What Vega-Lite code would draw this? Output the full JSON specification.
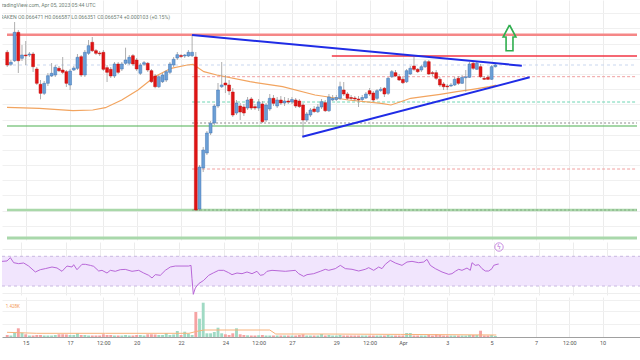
{
"$schema": "https://vega.github.io/schema/vega-lite/v6.json",
"padding": 0,
"spacing": 0,
"background": "white",
"config": {"view": {"stroke": null}, "font": "Roboto"},
"resolve": {"scale": {"x": "independent", "y": "independent"}},
"datasets": {
"candles": [
{"t":14.167,"open":0.066697,"high":0.06672,"low":0.06655,"close":0.06657,"volume":1000},
{"t":14.333,"open":0.066577,"high":0.06662,"low":0.06656,"close":0.066597,"volume":750},
{"t":14.5,"open":0.066613,"high":0.067,"low":0.0666,"close":0.066897,"volume":2000},
{"t":14.667,"open":0.066897,"high":0.06692,"low":0.06649,"close":0.066613,"volume":4350},
{"t":14.833,"open":0.066637,"high":0.06677,"low":0.06661,"close":0.06667,"volume":2150},
{"t":15,"open":0.06667,"high":0.06681,"low":0.06657,"close":0.066662,"volume":1350},
{"t":15.167,"open":0.06667,"high":0.0667,"low":0.06665,"close":0.06668,"volume":750},
{"t":15.333,"open":0.06668,"high":0.0667,"low":0.0665,"close":0.066553,"volume":750},
{"t":15.5,"open":0.06653,"high":0.06655,"low":0.06637,"close":0.066387,"volume":1000},
{"t":15.667,"open":0.066377,"high":0.06642,"low":0.066227,"close":0.066287,"volume":1000},
{"t":15.833,"open":0.066287,"high":0.06641,"low":0.06627,"close":0.066387,"volume":750},
{"t":16,"open":0.066387,"high":0.06649,"low":0.06636,"close":0.066463,"volume":750},
{"t":16.167,"open":0.06646,"high":0.06659,"low":0.06645,"close":0.066487,"volume":750},
{"t":16.333,"open":0.06647,"high":0.06657,"low":0.06645,"close":0.066547,"volume":1000},
{"t":16.5,"open":0.066537,"high":0.06656,"low":0.0665,"close":0.066513,"volume":1350},
{"t":16.667,"open":0.06652,"high":0.06665,"low":0.06648,"close":0.066497,"volume":1350},
{"t":16.833,"open":0.066503,"high":0.06652,"low":0.06635,"close":0.066387,"volume":1250},
{"t":17,"open":0.06637,"high":0.06653,"low":0.06632,"close":0.06651,"volume":1000},
{"t":17.167,"open":0.06652,"high":0.06656,"low":0.06651,"close":0.06654,"volume":1000},
{"t":17.333,"open":0.066537,"high":0.06668,"low":0.06652,"close":0.066647,"volume":1850},
{"t":17.5,"open":0.066653,"high":0.06667,"low":0.06645,"close":0.06647,"volume":1000},
{"t":17.667,"open":0.06647,"high":0.06672,"low":0.06645,"close":0.066697,"volume":1000},
{"t":17.833,"open":0.066687,"high":0.06682,"low":0.06667,"close":0.066763,"volume":750},
{"t":18,"open":0.066797,"high":0.06685,"low":0.0667,"close":0.066713,"volume":750},
{"t":18.167,"open":0.066713,"high":0.06673,"low":0.06667,"close":0.066687,"volume":750},
{"t":18.333,"open":0.06669,"high":0.06671,"low":0.06666,"close":0.066682,"volume":750},
{"t":18.5,"open":0.066697,"high":0.06672,"low":0.06651,"close":0.066527,"volume":1350},
{"t":18.667,"open":0.066543,"high":0.06657,"low":0.0664,"close":0.066497,"volume":1000},
{"t":18.833,"open":0.066527,"high":0.06655,"low":0.06644,"close":0.06646,"volume":1000},
{"t":19,"open":0.06646,"high":0.0666,"low":0.06644,"close":0.06658,"volume":750},
{"t":19.167,"open":0.06658,"high":0.0666,"low":0.06648,"close":0.066497,"volume":750},
{"t":19.333,"open":0.06653,"high":0.0666,"low":0.06651,"close":0.06658,"volume":750},
{"t":19.5,"open":0.066587,"high":0.066743,"low":0.06657,"close":0.06662,"volume":1000},
{"t":19.667,"open":0.066587,"high":0.06667,"low":0.06657,"close":0.066647,"volume":750},
{"t":19.833,"open":0.066663,"high":0.06668,"low":0.06656,"close":0.06658,"volume":750},
{"t":20,"open":0.06662,"high":0.06664,"low":0.06651,"close":0.06653,"volume":1000},
{"t":20.167,"open":0.066487,"high":0.06659,"low":0.06647,"close":0.06657,"volume":1000},
{"t":20.333,"open":0.066577,"high":0.06661,"low":0.06656,"close":0.066593,"volume":750},
{"t":20.5,"open":0.066587,"high":0.0666,"low":0.0665,"close":0.06652,"volume":1350},
{"t":20.667,"open":0.066513,"high":0.06653,"low":0.06639,"close":0.066403,"volume":1350},
{"t":20.833,"open":0.06646,"high":0.06648,"low":0.066337,"close":0.066353,"volume":1250},
{"t":21,"open":0.066353,"high":0.06647,"low":0.06634,"close":0.066453,"volume":1000},
{"t":21.167,"open":0.066403,"high":0.06649,"low":0.06639,"close":0.06647,"volume":1000},
{"t":21.333,"open":0.06642,"high":0.06652,"low":0.0664,"close":0.066503,"volume":2000},
{"t":21.5,"open":0.066497,"high":0.0666,"low":0.06648,"close":0.06658,"volume":1000},
{"t":21.667,"open":0.06657,"high":0.06665,"low":0.06655,"close":0.066627,"volume":1250},
{"t":21.833,"open":0.06664,"high":0.0667,"low":0.06662,"close":0.066673,"volume":3000},
{"t":22,"open":0.066665,"high":0.06668,"low":0.06664,"close":0.066655,"volume":1000},
{"t":22.167,"open":0.06666,"high":0.06668,"low":0.06664,"close":0.06667,"volume":2650},
{"t":22.333,"open":0.06666,"high":0.06672,"low":0.06665,"close":0.066697,"volume":1650},
{"t":22.5,"open":0.066663,"high":0.06687,"low":0.06665,"close":0.066697,"volume":1000},
{"t":22.667,"open":0.06665,"high":0.0667,"low":0.06511,"close":0.06512,"volume":12500},
{"t":22.833,"open":0.06513,"high":0.06557,"low":0.06511,"close":0.06555,"volume":9150},
{"t":23,"open":0.06554,"high":0.06575,"low":0.0655,"close":0.06572,"volume":17150},
{"t":23.167,"open":0.06569,"high":0.06591,"low":0.06567,"close":0.06589,"volume":1850},
{"t":23.333,"open":0.06589,"high":0.06601,"low":0.06587,"close":0.065987,"volume":1850},
{"t":23.5,"open":0.06599,"high":0.06618,"low":0.06597,"close":0.06616,"volume":2500},
{"t":23.667,"open":0.06616,"high":0.06639,"low":0.06614,"close":0.06632,"volume":4650},
{"t":23.833,"open":0.066353,"high":0.0666,"low":0.06634,"close":0.06637,"volume":1850},
{"t":24,"open":0.06639,"high":0.06647,"low":0.06629,"close":0.06637,"volume":1350},
{"t":24.167,"open":0.06637,"high":0.06642,"low":0.06627,"close":0.06631,"volume":1000},
{"t":24.333,"open":0.0663,"high":0.06634,"low":0.06605,"close":0.06607,"volume":1850},
{"t":24.5,"open":0.06609,"high":0.06622,"low":0.06607,"close":0.06619,"volume":4350},
{"t":24.667,"open":0.06616,"high":0.06619,"low":0.06602,"close":0.0661,"volume":1350},
{"t":24.833,"open":0.06615,"high":0.06618,"low":0.06606,"close":0.06609,"volume":1000},
{"t":25,"open":0.06614,"high":0.06625,"low":0.06612,"close":0.06622,"volume":850},
{"t":25.167,"open":0.06623,"high":0.06625,"low":0.06612,"close":0.06614,"volume":750},
{"t":25.333,"open":0.066153,"high":0.06618,"low":0.06612,"close":0.06614,"volume":750},
{"t":25.5,"open":0.06614,"high":0.06623,"low":0.06611,"close":0.0662,"volume":850},
{"t":25.667,"open":0.06618,"high":0.06621,"low":0.06599,"close":0.066003,"volume":1000},
{"t":25.833,"open":0.06602,"high":0.06619,"low":0.066,"close":0.06617,"volume":750},
{"t":26,"open":0.06613,"high":0.06628,"low":0.06611,"close":0.066237,"volume":750},
{"t":26.167,"open":0.066237,"high":0.06627,"low":0.06616,"close":0.066187,"volume":750},
{"t":26.333,"open":0.06616,"high":0.06625,"low":0.06614,"close":0.06622,"volume":750},
{"t":26.5,"open":0.06622,"high":0.06626,"low":0.06617,"close":0.06619,"volume":750},
{"t":26.667,"open":0.06619,"high":0.06625,"low":0.06616,"close":0.06621,"volume":750},
{"t":26.833,"open":0.06621,"high":0.06624,"low":0.06618,"close":0.0662,"volume":750},
{"t":27,"open":0.0662,"high":0.06625,"low":0.06618,"close":0.066225,"volume":750},
{"t":27.167,"open":0.06622,"high":0.06624,"low":0.06614,"close":0.06616,"volume":750},
{"t":27.333,"open":0.06621,"high":0.06623,"low":0.06614,"close":0.066155,"volume":1000},
{"t":27.5,"open":0.06617,"high":0.06619,"low":0.065853,"close":0.06602,"volume":1350},
{"t":27.667,"open":0.06602,"high":0.0661,"low":0.066,"close":0.06608,"volume":750},
{"t":27.833,"open":0.06607,"high":0.06614,"low":0.06605,"close":0.06612,"volume":750},
{"t":28,"open":0.06613,"high":0.06616,"low":0.06609,"close":0.066105,"volume":750},
{"t":28.167,"open":0.066103,"high":0.06618,"low":0.06609,"close":0.06615,"volume":750},
{"t":28.333,"open":0.06615,"high":0.06623,"low":0.06613,"close":0.066203,"volume":1500},
{"t":28.5,"open":0.066193,"high":0.06622,"low":0.0661,"close":0.066113,"volume":750},
{"t":28.667,"open":0.066113,"high":0.06628,"low":0.0661,"close":0.06625,"volume":1000},
{"t":28.833,"open":0.06622,"high":0.06627,"low":0.06621,"close":0.066235,"volume":750},
{"t":29,"open":0.066225,"high":0.06627,"low":0.06621,"close":0.066245,"volume":750},
{"t":29.167,"open":0.066237,"high":0.066403,"low":0.06622,"close":0.066353,"volume":1000},
{"t":29.333,"open":0.06632,"high":0.0664,"low":0.06626,"close":0.06628,"volume":750},
{"t":29.5,"open":0.06628,"high":0.0663,"low":0.06622,"close":0.066237,"volume":750},
{"t":29.667,"open":0.066245,"high":0.06627,"low":0.06622,"close":0.066235,"volume":750},
{"t":29.833,"open":0.06624,"high":0.06626,"low":0.06621,"close":0.06623,"volume":750},
{"t":30,"open":0.06623,"high":0.06626,"low":0.06615,"close":0.066222,"volume":750},
{"t":30.167,"open":0.066225,"high":0.06627,"low":0.06621,"close":0.066245,"volume":750},
{"t":30.333,"open":0.06624,"high":0.0663,"low":0.06623,"close":0.06628,"volume":750},
{"t":30.5,"open":0.066313,"high":0.06634,"low":0.06626,"close":0.06628,"volume":750},
{"t":30.667,"open":0.06629,"high":0.06631,"low":0.0662,"close":0.06622,"volume":750},
{"t":30.833,"open":0.066237,"high":0.06633,"low":0.06622,"close":0.066313,"volume":750},
{"t":31,"open":0.066315,"high":0.06635,"low":0.0663,"close":0.066327,"volume":750},
{"t":31.167,"open":0.066337,"high":0.06635,"low":0.06625,"close":0.06628,"volume":750},
{"t":31.333,"open":0.066287,"high":0.06645,"low":0.06627,"close":0.066437,"volume":1000},
{"t":31.5,"open":0.066453,"high":0.06652,"low":0.06644,"close":0.066503,"volume":750},
{"t":31.667,"open":0.066493,"high":0.06652,"low":0.06645,"close":0.06646,"volume":750},
{"t":31.833,"open":0.066453,"high":0.06648,"low":0.06641,"close":0.06642,"volume":750},
{"t":32,"open":0.066427,"high":0.06645,"low":0.06638,"close":0.066393,"volume":750},
{"t":32.167,"open":0.066403,"high":0.06653,"low":0.06639,"close":0.066513,"volume":2000},
{"t":32.333,"open":0.06648,"high":0.06656,"low":0.06647,"close":0.066537,"volume":2000},
{"t":32.5,"open":0.06656,"high":0.066653,"low":0.06651,"close":0.066527,"volume":750},
{"t":32.667,"open":0.066527,"high":0.06654,"low":0.06649,"close":0.066503,"volume":750},
{"t":32.833,"open":0.06652,"high":0.06657,"low":0.0665,"close":0.066553,"volume":750},
{"t":33,"open":0.066553,"high":0.06662,"low":0.06654,"close":0.066603,"volume":750},
{"t":33.167,"open":0.066603,"high":0.06662,"low":0.06647,"close":0.06648,"volume":1000},
{"t":33.333,"open":0.066493,"high":0.06651,"low":0.06646,"close":0.066485,"volume":750},
{"t":33.5,"open":0.066493,"high":0.06652,"low":0.06642,"close":0.066437,"volume":1350},
{"t":33.667,"open":0.066427,"high":0.06645,"low":0.06635,"close":0.06637,"volume":1000},
{"t":33.833,"open":0.06638,"high":0.0664,"low":0.06632,"close":0.066353,"volume":750},
{"t":34,"open":0.06636,"high":0.06638,"low":0.06632,"close":0.066352,"volume":750},
{"t":34.167,"open":0.06636,"high":0.06639,"low":0.06635,"close":0.06637,"volume":750},
{"t":34.333,"open":0.06637,"high":0.06645,"low":0.06636,"close":0.066427,"volume":750},
{"t":34.5,"open":0.066437,"high":0.06646,"low":0.06637,"close":0.066387,"volume":750},
{"t":34.667,"open":0.066387,"high":0.06647,"low":0.06638,"close":0.066447,"volume":750},
{"t":34.833,"open":0.066443,"high":0.06652,"low":0.066303,"close":0.066452,"volume":750},
{"t":35,"open":0.066447,"high":0.0666,"low":0.06644,"close":0.06658,"volume":1000},
{"t":35.167,"open":0.066587,"high":0.0666,"low":0.06652,"close":0.066537,"volume":1000},
{"t":35.333,"open":0.066527,"high":0.06661,"low":0.06652,"close":0.066587,"volume":1000},
{"t":35.5,"open":0.066553,"high":0.06658,"low":0.06644,"close":0.066453,"volume":3150},
{"t":35.667,"open":0.066437,"high":0.06646,"low":0.06642,"close":0.066427,"volume":750},
{"t":35.833,"open":0.066447,"high":0.06647,"low":0.06642,"close":0.066427,"volume":750},
{"t":36,"open":0.066427,"high":0.06657,"low":0.06642,"close":0.066553,"volume":1000},
{"t":36.167,"open":0.066553,"high":0.06658,"low":0.066545,"close":0.06657,"volume":500}
],
"ma": [
{"t":14.157,"p":0.066147},{"t":15.62,"p":0.066137},{"t":17.13,"p":0.066113},{"t":18.02,"p":0.06612},
{"t":18.59,"p":0.066143},{"t":19.33,"p":0.06622},{"t":20.06,"p":0.06632},{"t":20.81,"p":0.066453},
{"t":21.55,"p":0.066537},{"t":22.28,"p":0.06657},{"t":22.54,"p":0.066577},{"t":23.03,"p":0.066503},
{"t":23.61,"p":0.06647},{"t":25.11,"p":0.066403},{"t":26.58,"p":0.066353},{"t":28.04,"p":0.06627},
{"t":29.55,"p":0.06622},{"t":31.02,"p":0.066187},{"t":31.46,"p":0.06617},{"t":31.9,"p":0.066203},
{"t":32.35,"p":0.066237},{"t":32.92,"p":0.066253},{"t":33.68,"p":0.066277},{"t":34.43,"p":0.066303},
{"t":35.14,"p":0.066327},{"t":35.9,"p":0.066353},{"t":36.21,"p":0.06637}
],
"hl": [
{"t":14.157,"t2":42.551,"p":0.066873,"kind":"resistance"},
{"t":28.797,"t2":42.551,"p":0.06666,"kind":"red"},
{"t":14.157,"t2":42.551,"p":0.06657,"kind":"blueDash"},
{"t":22.498,"t2":42.551,"p":0.066453,"kind":"pinkDash"},
{"t":22.498,"t2":42.551,"p":0.0662,"kind":"tealDash"},
{"t":22.498,"t2":42.551,"p":0.06599,"kind":"grayDash"},
{"t":14.157,"t2":42.551,"p":0.06596,"kind":"support"},
{"t":22.498,"t2":42.551,"p":0.06553,"kind":"pinkDash"},
{"t":14.157,"t2":42.551,"p":0.06512,"kind":"lowSupport"},
{"t":22.498,"t2":42.551,"p":0.06512,"kind":"greenDash"},
{"t":14.157,"t2":42.551,"p":0.06484,"kind":"bottomLine"}
],
"tri": [
{"line":"upper","t":22.498,"p":0.06687},{"line":"upper","t":37.36,"p":0.066563},
{"line":"lower","t":27.467,"p":0.065853},{"line":"lower","t":37.715,"p":0.066447}
],
"arrow": [
{"i":1,"t":36.806,"p":0.06697},{"i":2,"t":37.094,"p":0.06685},{"i":3,"t":36.961,"p":0.06685},
{"i":4,"t":36.961,"p":0.066713},{"i":5,"t":36.65,"p":0.066713},{"i":6,"t":36.65,"p":0.06685},
{"i":7,"t":36.517,"p":0.06685},{"i":8,"t":36.806,"p":0.06697}
],
"notes": [
{"t":18.15,"p":0.06717,"label":"TradingView.com, Apr 05, 2023 05:44 UTC"},
{"t":21.508,"p":0.067047,"label":"KRAKEN  O0.066471  H0.066587  L0.066351  C0.066574  +0.000103 (+0.15%)"}
],
"rsi": [
{"t":14.157,"v":63.2},{"t":14.379,"v":63.7},{"t":14.527,"v":68.2},{"t":14.675,"v":61.4},{"t":14.897,"v":60.1},
{"t":15.118,"v":61.0},{"t":15.34,"v":56.9},{"t":15.636,"v":48.9},{"t":15.857,"v":52.0},{"t":16.079,"v":53.4},
{"t":16.375,"v":55.6},{"t":16.597,"v":54.3},{"t":16.819,"v":49.8},{"t":17.041,"v":56.9},{"t":17.263,"v":55.6},
{"t":17.337,"v":58.7},{"t":17.484,"v":52.0},{"t":17.706,"v":59.2},{"t":17.854,"v":59.2},{"t":18.076,"v":57.8},
{"t":18.225,"v":56.5},{"t":18.447,"v":50.2},{"t":18.594,"v":51.1},{"t":18.815,"v":47.5},{"t":18.962,"v":51.1},
{"t":19.184,"v":49.8},{"t":19.405,"v":52.0},{"t":19.627,"v":52.4},{"t":19.925,"v":49.8},{"t":20.222,"v":51.1},
{"t":20.444,"v":47.5},{"t":20.665,"v":44.4},{"t":20.812,"v":40.8},{"t":20.958,"v":45.3},{"t":21.18,"v":44.4},
{"t":21.402,"v":51.1},{"t":21.624,"v":55.6},{"t":21.846,"v":56.9},{"t":22.44,"v":56.9},{"t":22.542,"v":57.8},
{"t":22.586,"v":39.9},{"t":22.644,"v":18.8},{"t":22.733,"v":27.3},{"t":22.884,"v":33.2},{"t":23.105,"v":37.6},
{"t":23.327,"v":44.4},{"t":23.549,"v":47.9},{"t":23.771,"v":51.1},{"t":23.993,"v":51.1},{"t":24.215,"v":47.9},
{"t":24.361,"v":45.3},{"t":24.583,"v":47.5},{"t":24.805,"v":46.6},{"t":25.027,"v":48.9},{"t":25.248,"v":46.6},
{"t":25.47,"v":49.8},{"t":25.617,"v":44.4},{"t":25.767,"v":45.3},{"t":25.914,"v":49.8},{"t":26.136,"v":51.1},
{"t":26.726,"v":49.8},{"t":27.17,"v":51.1},{"t":27.32,"v":46.6},{"t":27.542,"v":43.0},{"t":27.689,"v":45.3},
{"t":27.985,"v":46.6},{"t":28.279,"v":49.8},{"t":28.5,"v":52.5},{"t":28.651,"v":51.1},{"t":28.945,"v":53.4},
{"t":29.167,"v":57.8},{"t":29.389,"v":53.4},{"t":29.685,"v":52.5},{"t":29.982,"v":50.2},{"t":30.275,"v":52.5},
{"t":30.426,"v":54.7},{"t":30.648,"v":51.1},{"t":30.869,"v":55.6},{"t":31.016,"v":53.4},{"t":31.162,"v":59.2},
{"t":31.384,"v":64.6},{"t":31.606,"v":61.0},{"t":31.903,"v":57.8},{"t":32.125,"v":62.3},{"t":32.347,"v":63.2},
{"t":32.644,"v":61.4},{"t":32.866,"v":62.3},{"t":33.012,"v":65.9},{"t":33.159,"v":57.8},{"t":33.381,"v":53.4},
{"t":33.678,"v":48.9},{"t":33.975,"v":45.7},{"t":34.121,"v":46.6},{"t":34.268,"v":49.8},{"t":34.419,"v":52.5},
{"t":34.565,"v":51.1},{"t":34.787,"v":54.2},{"t":34.934,"v":51.1},{"t":35.009,"v":61.4},{"t":35.155,"v":57.8},
{"t":35.306,"v":58.7},{"t":35.452,"v":53.4},{"t":35.599,"v":50.2},{"t":35.75,"v":50.2},{"t":35.896,"v":53.4},
{"t":35.971,"v":57.8},{"t":36.118,"v":59.2},{"t":36.193,"v":59.6}
],
"rsiband": [{"t":14.157,"t2":42.551,"lo":30,"hi":70}],
"rsilev": [{"t":14.157,"t2":42.551,"v":70},{"t":14.157,"t2":42.551,"v":30}],
"rsiicon": [{"t":36.207,"v":82.5,"label":"ϟ"}],
"vma": [
{"t":14.157,"volume":2350},{"t":15.49,"volume":1850},{"t":18.59,"volume":1850},{"t":22.36,"volume":1850},
{"t":22.68,"volume":2750},{"t":23.03,"volume":3500},{"t":26.0,"volume":3500},{"t":26.27,"volume":1500},
{"t":28.35,"volume":1500},{"t":31.9,"volume":1300},{"t":36.21,"volume":1000}
],
"vlabel": [{"t":14.734,"volume":15150,"label":"1.428K"}]
},
"vconcat": [
{
"width": 640, "height": 240,
"encoding": {
 "x": {"field":"t","type":"quantitative","scale":{"domain":[14.157,42.551],"nice":false,"zero":false},
  "axis":{"values":[15,17,18.5,20,22,24,25.5,27,29,30.5,32,34,36,38,39.5,41],"grid":true,"gridColor":"#ececec","labels":false,"ticks":false,"domain":false,"title":null,"minExtent":0,"maxExtent":0}},
 "y": {"field":"p","type":"quantitative","scale":{"domain":[0.06482,0.06722],"nice":false,"zero":false},
  "axis":{"values":[0.067089,0.066937,0.066785,0.066633,0.066481,0.066329,0.066177,0.066025,0.065873,0.065721,0.065569,0.065417,0.065265,0.065113,0.064961],"grid":true,"gridColor":"#f0f0f0","labels":false,"ticks":false,"domain":false,"title":null,"minExtent":0,"maxExtent":0}}
},
"layer": [
 {"data":{"name":"hl"},"transform":[{"filter":"datum.kind == 'blueDash'"}],"mark":{"type":"rule","color":"#c9d7ef","strokeWidth":1,"strokeDash":[3,3]},"encoding":{"x2":{"field":"t2"}}},
 {"data":{"name":"hl"},"transform":[{"filter":"datum.kind == 'pinkDash'"}],"mark":{"type":"rule","color":"#f0a0a0","strokeWidth":1,"strokeDash":[3,2]},"encoding":{"x2":{"field":"t2"}}},
 {"data":{"name":"hl"},"transform":[{"filter":"datum.kind == 'tealDash'"}],"mark":{"type":"rule","color":"#6fd6b4","strokeWidth":1,"strokeDash":[3,2]},"encoding":{"x2":{"field":"t2"}}},
 {"data":{"name":"hl"},"transform":[{"filter":"datum.kind == 'grayDash'"}],"mark":{"type":"rule","color":"#8c8c8c","strokeWidth":1,"strokeDash":[2,2]},"encoding":{"x2":{"field":"t2"}}},
 {"data":{"name":"hl"},"transform":[{"filter":"datum.kind == 'support'"}],"mark":{"type":"rule","color":"#4caf50","strokeWidth":1.2},"encoding":{"x2":{"field":"t2"}}},
 {"data":{"name":"hl"},"transform":[{"filter":"datum.kind == 'lowSupport'"}],"mark":{"type":"rule","color":"#a9d8a9","strokeWidth":2.5},"encoding":{"x2":{"field":"t2"}}},
 {"data":{"name":"hl"},"transform":[{"filter":"datum.kind == 'greenDash'"}],"mark":{"type":"rule","color":"#8fb88f","strokeWidth":1.5,"strokeDash":[2,2]},"encoding":{"x2":{"field":"t2"}}},
 {"data":{"name":"hl"},"transform":[{"filter":"datum.kind == 'bottomLine'"}],"mark":{"type":"rule","color":"#a9d8ab","strokeWidth":3},"encoding":{"x2":{"field":"t2"}}},
 {"data":{"name":"hl"},"transform":[{"filter":"datum.kind == 'resistance'"}],"mark":{"type":"rule","color":"#f58787","strokeWidth":2.5},"encoding":{"x2":{"field":"t2"}}},
 {"data":{"name":"hl"},"transform":[{"filter":"datum.kind == 'red'"}],"mark":{"type":"rule","color":"#f23645","strokeWidth":1.3},"encoding":{"x2":{"field":"t2"}}},
 {"data":{"name":"ma"},"mark":{"type":"line","color":"#f2a45f","strokeWidth":1.2,"clip":true},"encoding":{}},
 {"data":{"name":"candles"},"mark":{"type":"rule","color":"#9a9a9a","strokeWidth":0.8},
  "encoding":{"y":{"field":"low","type":"quantitative","title":null},"y2":{"field":"high"}}},
 {"data":{"name":"candles"},"mark":{"type":"bar","size":2.9,"strokeWidth":0.5},
  "encoding":{"y":{"field":"open","type":"quantitative","title":null},"y2":{"field":"close"},
   "color":{"condition":{"test":"datum.close < datum.open","value":"#e01414"},"value":"#6b9fd6"},
   "stroke":{"condition":{"test":"datum.close < datum.open","value":"#c40d0d"},"value":"#3f72b3"}}},
 {"data":{"name":"tri"},"mark":{"type":"line","color":"#1f2ce6","strokeWidth":2},"encoding":{"detail":{"field":"line"}}},
 {"data":{"name":"arrow"},"mark":{"type":"line","color":"#2fae4e","strokeWidth":1.6,"strokeJoin":"miter"},"encoding":{"order":{"field":"i"}}},
 {"data":{"name":"notes"},"mark":{"type":"text","align":"right","baseline":"middle","fontSize":5.2,"color":"#6f7f76","clip":true},"encoding":{"text":{"field":"label"}}}
]
},
{
"width": 640, "height": 53,
"encoding": {
 "x": {"field":"t","type":"quantitative","scale":{"domain":[14.157,42.551],"nice":false,"zero":false},
  "axis":{"values":[15,17,18.5,20,22,24,25.5,27,29,30.5,32,34,36,38,39.5,41],"grid":true,"gridColor":"#ececec","labels":false,"ticks":false,"domain":false,"title":null,"minExtent":0,"maxExtent":0}},
 "y": {"field":"v","type":"quantitative","scale":{"domain":[17.9,89.26],"nice":false,"zero":false},
  "axis":{"values":[20,40,60,80],"grid":true,"gridColor":"#eeeeee","labels":false,"ticks":false,"domain":false,"title":null,"minExtent":0,"maxExtent":0}}
},
"layer": [
 {"data":{"name":"rsiband"},"mark":{"type":"rect","color":"#f1e5fd"},"encoding":{"x2":{"field":"t2"},"y":{"field":"lo","type":"quantitative","title":null},"y2":{"field":"hi"}}},
 {"data":{"name":"rsilev"},"mark":{"type":"rule","color":"#c8b8e0","strokeWidth":1,"strokeDash":[3,3]},"encoding":{"x2":{"field":"t2"}}},
 {"data":{"name":"rsi"},"mark":{"type":"line","color":"#b867d8","strokeWidth":1},"encoding":{}},
 {"data":{"name":"rsiicon"},"mark":{"type":"point","shape":"circle","size":70,"filled":false,"color":"#b45fd6","strokeWidth":1},"encoding":{}},
 {"data":{"name":"rsiicon"},"mark":{"type":"text","fontSize":6.5,"font":"DejaVu Sans","color":"#b45fd6","baseline":"middle","align":"center"},"encoding":{"text":{"field":"label"}}}
]
},
{
"width": 640, "height": 40,
"encoding": {
 "x": {"field":"t","type":"quantitative","scale":{"domain":[14.157,42.551],"nice":false,"zero":false},
  "axis":{"values":[15,17,18.5,20,22,24,25.5,27,29,30.5,32,34,36,38,39.5,41],
   "labelExpr":"datum.value == 32 ? 'Apr' : (datum.value % 1 != 0 ? '12:00' : (datum.value > 32 ? format(datum.value - 31, 'd') : format(datum.value, 'd')))",
   "grid":true,"gridColor":"#ececec","ticks":false,"domain":true,"domainColor":"#a0a0a0","labelFontSize":5.5,"labelColor":"#555555","labelPadding":3,"labelFlush":false,"labelOverlap":false,"labelBound":false,"title":null}},
 "y": {"field":"volume","type":"quantitative","scale":{"domain":[0,20000],"nice":false,"zero":false},
  "axis":{"values":[6500,13000,18500],"grid":true,"gridColor":"#f0f0f0","labels":false,"ticks":false,"domain":false,"title":null,"minExtent":0,"maxExtent":0}}
},
"layer": [
 {"data":{"name":"candles"},"mark":{"type":"bar","size":2.9},
  "encoding":{"color":{"condition":{"test":"datum.close < datum.open","value":"#f5a3a3"},"value":"#a0dac4"}}},
 {"data":{"name":"vma"},"mark":{"type":"line","color":"#f7b27a","strokeWidth":1},"encoding":{}},
 {"data":{"name":"vlabel"},"mark":{"type":"text","align":"right","baseline":"middle","fontSize":4.5,"color":"#f39a55","clip":true},"encoding":{"text":{"field":"label"}}}
]
}
]
}
